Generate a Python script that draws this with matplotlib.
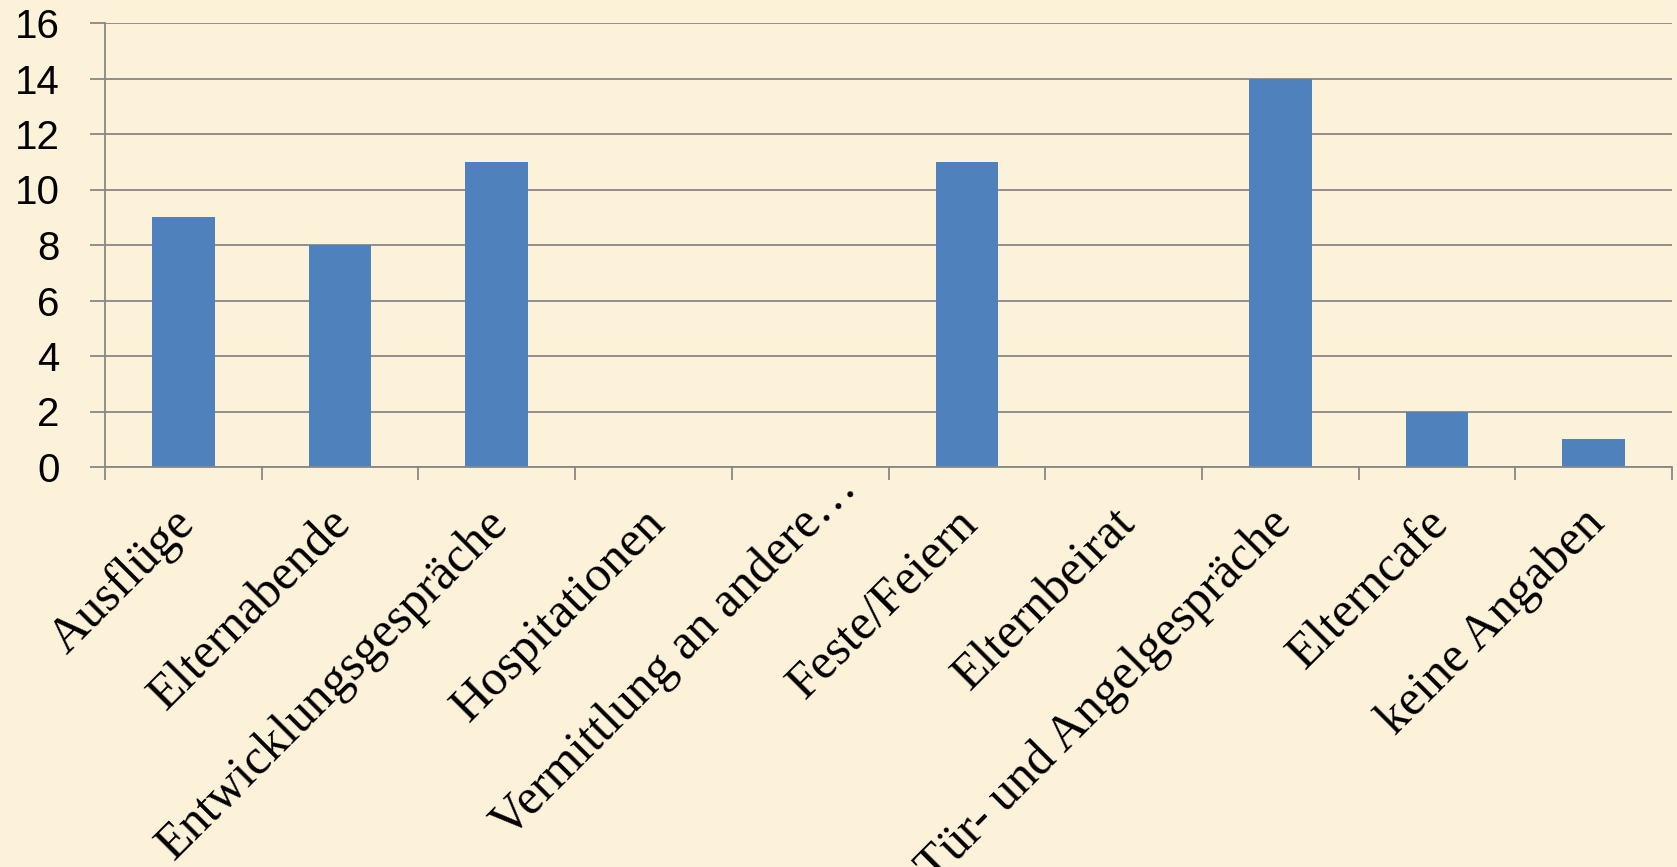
import matplotlib
matplotlib.use('Agg')
import matplotlib.pyplot as plt
from matplotlib.transforms import ScaledTranslation

categories = ['Ausflüge', 'Elternabende', 'Entwicklungsgespräche', 'Hospitationen',
              'Vermittlung an andere…', 'Feste/Feiern', 'Elternbeirat',
              'Tür- und Angelgespräche', 'Elterncafe', 'keine Angaben']
values = [9, 8, 11, 0, 0, 11, 0, 14, 2, 1]
y_ticks = [0, 2, 4, 6, 8, 10, 12, 14, 16]

bg = '#FCF1D9'
grid_col = '#878787'

fig = plt.figure(figsize=(16.77, 8.67), dpi=100, facecolor=bg)
ax = fig.add_axes([105 / 1677, 1 - 467 / 867, 1567 / 1677, 444 / 867])
ax.set_facecolor(bg)

x = list(range(len(categories)))
ax.bar(x, values, width=0.4, color='#4F81BD', zorder=3)

ax.set_xlim(-0.5, len(categories) - 0.5)
ax.set_ylim(0, 16)
ax.set_yticks(y_ticks)
ax.set_yticklabels([str(v) for v in y_ticks], fontfamily='Liberation Sans', fontsize=29)
ax.grid(axis='y', color=grid_col, linewidth=1.3, zorder=0)

# category boundaries as x tick marks, labels sit on minor ticks
ax.set_xticks([i - 0.5 for i in range(len(categories) + 1)])
ax.set_xticklabels([])
ax.set_xticks(x, minor=True)
ax.set_xticklabels(categories, minor=True, rotation=45, ha='right', va='baseline',
                   rotation_mode='anchor', fontfamily='Liberation Serif', fontsize=36)
ax.tick_params(axis='x', which='minor', length=0, pad=42)
ax.tick_params(axis='x', which='major', length=9.5, width=1.3, color=grid_col)
ax.tick_params(axis='y', length=10.8, width=1.3, color=grid_col, pad=22)

for lbl in ax.get_xticklabels(minor=True):
    # truncated label: the ellipsis hangs past the tick like in Excel
    if lbl.get_text().endswith('…'):
        shift = ScaledTranslation(0.13 + 0.35, 0.35, fig.dpi_scale_trans)
    else:
        shift = ScaledTranslation(0.13, 0, fig.dpi_scale_trans)
    lbl.set_transform(lbl.get_transform() + shift)

for side in ['top', 'right']:
    ax.spines[side].set_visible(False)
for side in ['left', 'bottom']:
    ax.spines[side].set_color(grid_col)
    ax.spines[side].set_linewidth(1.3)
    ax.spines[side].set_zorder(4)

fig.savefig('out.png', dpi=100, facecolor=bg)
